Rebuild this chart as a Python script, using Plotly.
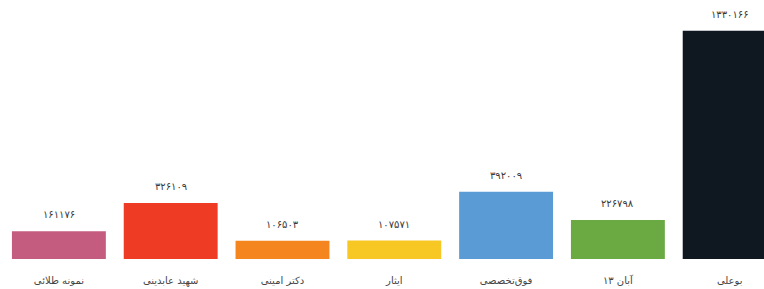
import plotly.graph_objects as go

categories = ["نمونه طلائی", "شهید عابدینی", "دکتر امینی", "ایثار", "فوق‌تخصصی", "\u202a۱۳ آبان\u202c", "بوعلی"]
values = [161176, 326109, 106503, 107571, 392009, 226798, 1330166]
colors = ["#C45C80", "#EE3B24", "#F5861F", "#F7C724", "#5B9BD5", "#6BAA43", "#0F1720"]

PERSIAN = str.maketrans("0123456789", "۰۱۲۳۴۵۶۷۸۹")
labels = [str(v).translate(PERSIAN) for v in values]

fig = go.Figure()
fig.add_trace(go.Bar(
    x=categories, y=values, marker=dict(color=colors, line=dict(width=0)),
    hoverinfo="skip",
))
for c, v, t in zip(categories, values, labels):
    fig.add_annotation(x=c, y=v, text=t, showarrow=False, yanchor="bottom", yshift=9,
                       font=dict(family="DejaVu Sans", size=10, color="#3a3a3a"))

fig.update_layout(
    width=764, height=289,
    margin=dict(l=3, r=0, t=0, b=30, autoexpand=False),
    paper_bgcolor="white", plot_bgcolor="white",
    bargap=0.16, showlegend=False,
    font=dict(family="DejaVu Sans", size=10, color="#444444"),
)
fig.update_xaxes(type="category", categoryorder="array", categoryarray=categories,
                 range=[-0.5, 6.307], showgrid=False, showline=False, ticks="",
                 automargin=False, ticklabelstandoff=14, tickfont=dict(size=10, color="#444444"))
fig.update_yaxes(range=[0, 1510000], visible=False, showgrid=False, zeroline=False,
                 automargin=False)

fig.write_html("out.html", config={"displayModeBar": False},
               post_script="document.body.style.margin='0';document.body.style.overflow='hidden';")
